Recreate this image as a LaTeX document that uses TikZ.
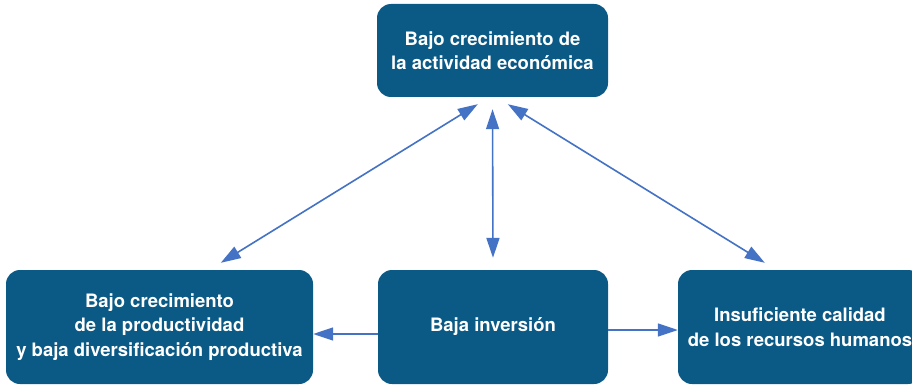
\documentclass[tikz,border=0pt]{standalone}
\usepackage{fontspec}
\setmainfont{TeX Gyre Heros}
\usetikzlibrary{arrows.meta}
\definecolor{boxblue}{HTML}{0B5A86}
\definecolor{arrblue}{HTML}{4472C4}
\tikzset{
  box/.style={fill=boxblue, rounded corners=14pt, text=white, align=center,
    font=\fontsize{18.5}{24.5}\selectfont\bfseries, inner sep=0pt},
  arr/.style={draw=arrblue, line width=1.6pt,
    {Triangle[length=20pt,width=13pt]}-{Triangle[length=20pt,width=13pt]}},
  arrone/.style={draw=arrblue, line width=1.6pt, -{Triangle[length=20pt,width=13pt]}}
}
\begin{document}
\begin{tikzpicture}[x=1pt,y=-1pt]
\clip (0,0) rectangle (912,385);
\fill[white] (0,0) rectangle (912,385);
\node[box, minimum width=231pt, minimum height=93pt] (top) at (492.5,50.5)
  {Bajo crecimiento de\\la actividad económica};
\node[box, minimum width=307pt, minimum height=114pt] (lb) at (159.5,327)
  {Bajo crecimiento\\de la productividad\\y baja diversificación productiva};
\node[box, minimum width=230pt, minimum height=114pt] (mid) at (493,327)
  {Baja inversión};
\node[box, minimum width=244pt, minimum height=114pt] (rb) at (800,327)
  {Insuficiente calidad\\de los recursos humanos};
\draw[arr] ([xshift=101pt,yshift=-7pt]top.south west) -- ([xshift=215pt,yshift=7pt]lb.north west);
\draw[arr] ([yshift=-12pt]top.south) -- ([yshift=12pt]mid.north);
\draw[arr] ([xshift=131pt,yshift=-7pt]top.south west) -- ([xshift=87pt,yshift=7pt]rb.north west);
\draw[arrone] ([yshift=-7pt]mid.west) -- ([yshift=-7pt]lb.east);
\draw[arrone] ([yshift=-3pt]mid.east) -- ([yshift=-3pt]rb.west);
\end{tikzpicture}
\end{document}
